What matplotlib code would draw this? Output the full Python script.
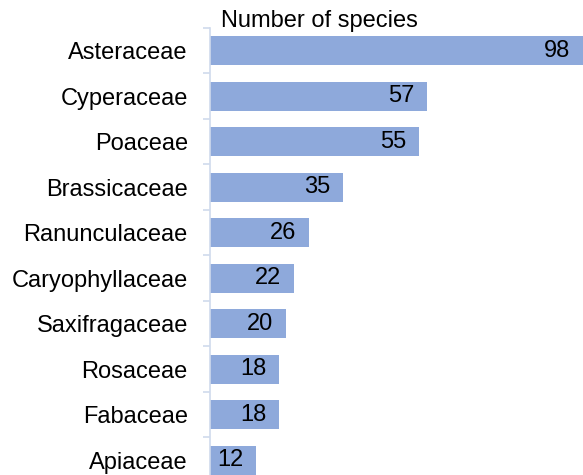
import matplotlib
matplotlib.use("Agg")
import matplotlib.pyplot as plt

plt.rcParams['font.family'] = ['Liberation Sans', 'DejaVu Sans']

families = ["Asteraceae", "Cyperaceae", "Poaceae", "Brassicaceae", "Ranunculaceae",
            "Caryophyllaceae", "Saxifragaceae", "Rosaceae", "Fabaceae", "Apiaceae"]
species = [98, 57, 55, 35, 26, 22, 20, 18, 18, 12]

fig = plt.figure(figsize=(5.83, 4.75), dpi=100)
ax = fig.add_axes([210 / 583, -8 / 475, 373 / 583, 455 / 475])

y = list(range(len(families)))
ax.barh(y, species, height=0.63, color="#8EA9DB")
ax.set_ylim(len(families) - 0.5, -0.5)
ax.set_xlim(0, 98)

for yi, v in zip(y, species):
    ax.annotate(str(v), xy=(v, yi), xytext=(-9, 0), textcoords="offset points",
                ha="right", va="center", fontsize=17, color="black")

ax.set_yticks(y)
ax.set_yticklabels(families, fontsize=17)
ax.set_yticks([i + 0.5 for i in range(-1, len(families))], minor=True)
ax.tick_params(axis="y", which="major", length=0, pad=16)
ax.tick_params(axis="y", which="minor", length=5, color="#D0DAEC", width=1.2)
ax.set_xticks([])
for s in ["top", "right", "bottom"]:
    ax.spines[s].set_visible(False)
ax.spines["left"].set_color("#D0DAEC")
ax.spines["left"].set_linewidth(1.2)

fig.text(221 / 583, 1 - 21 / 475, "Number of species", fontsize=17, va="center", ha="left")

fig.savefig("out.png", dpi=100)
